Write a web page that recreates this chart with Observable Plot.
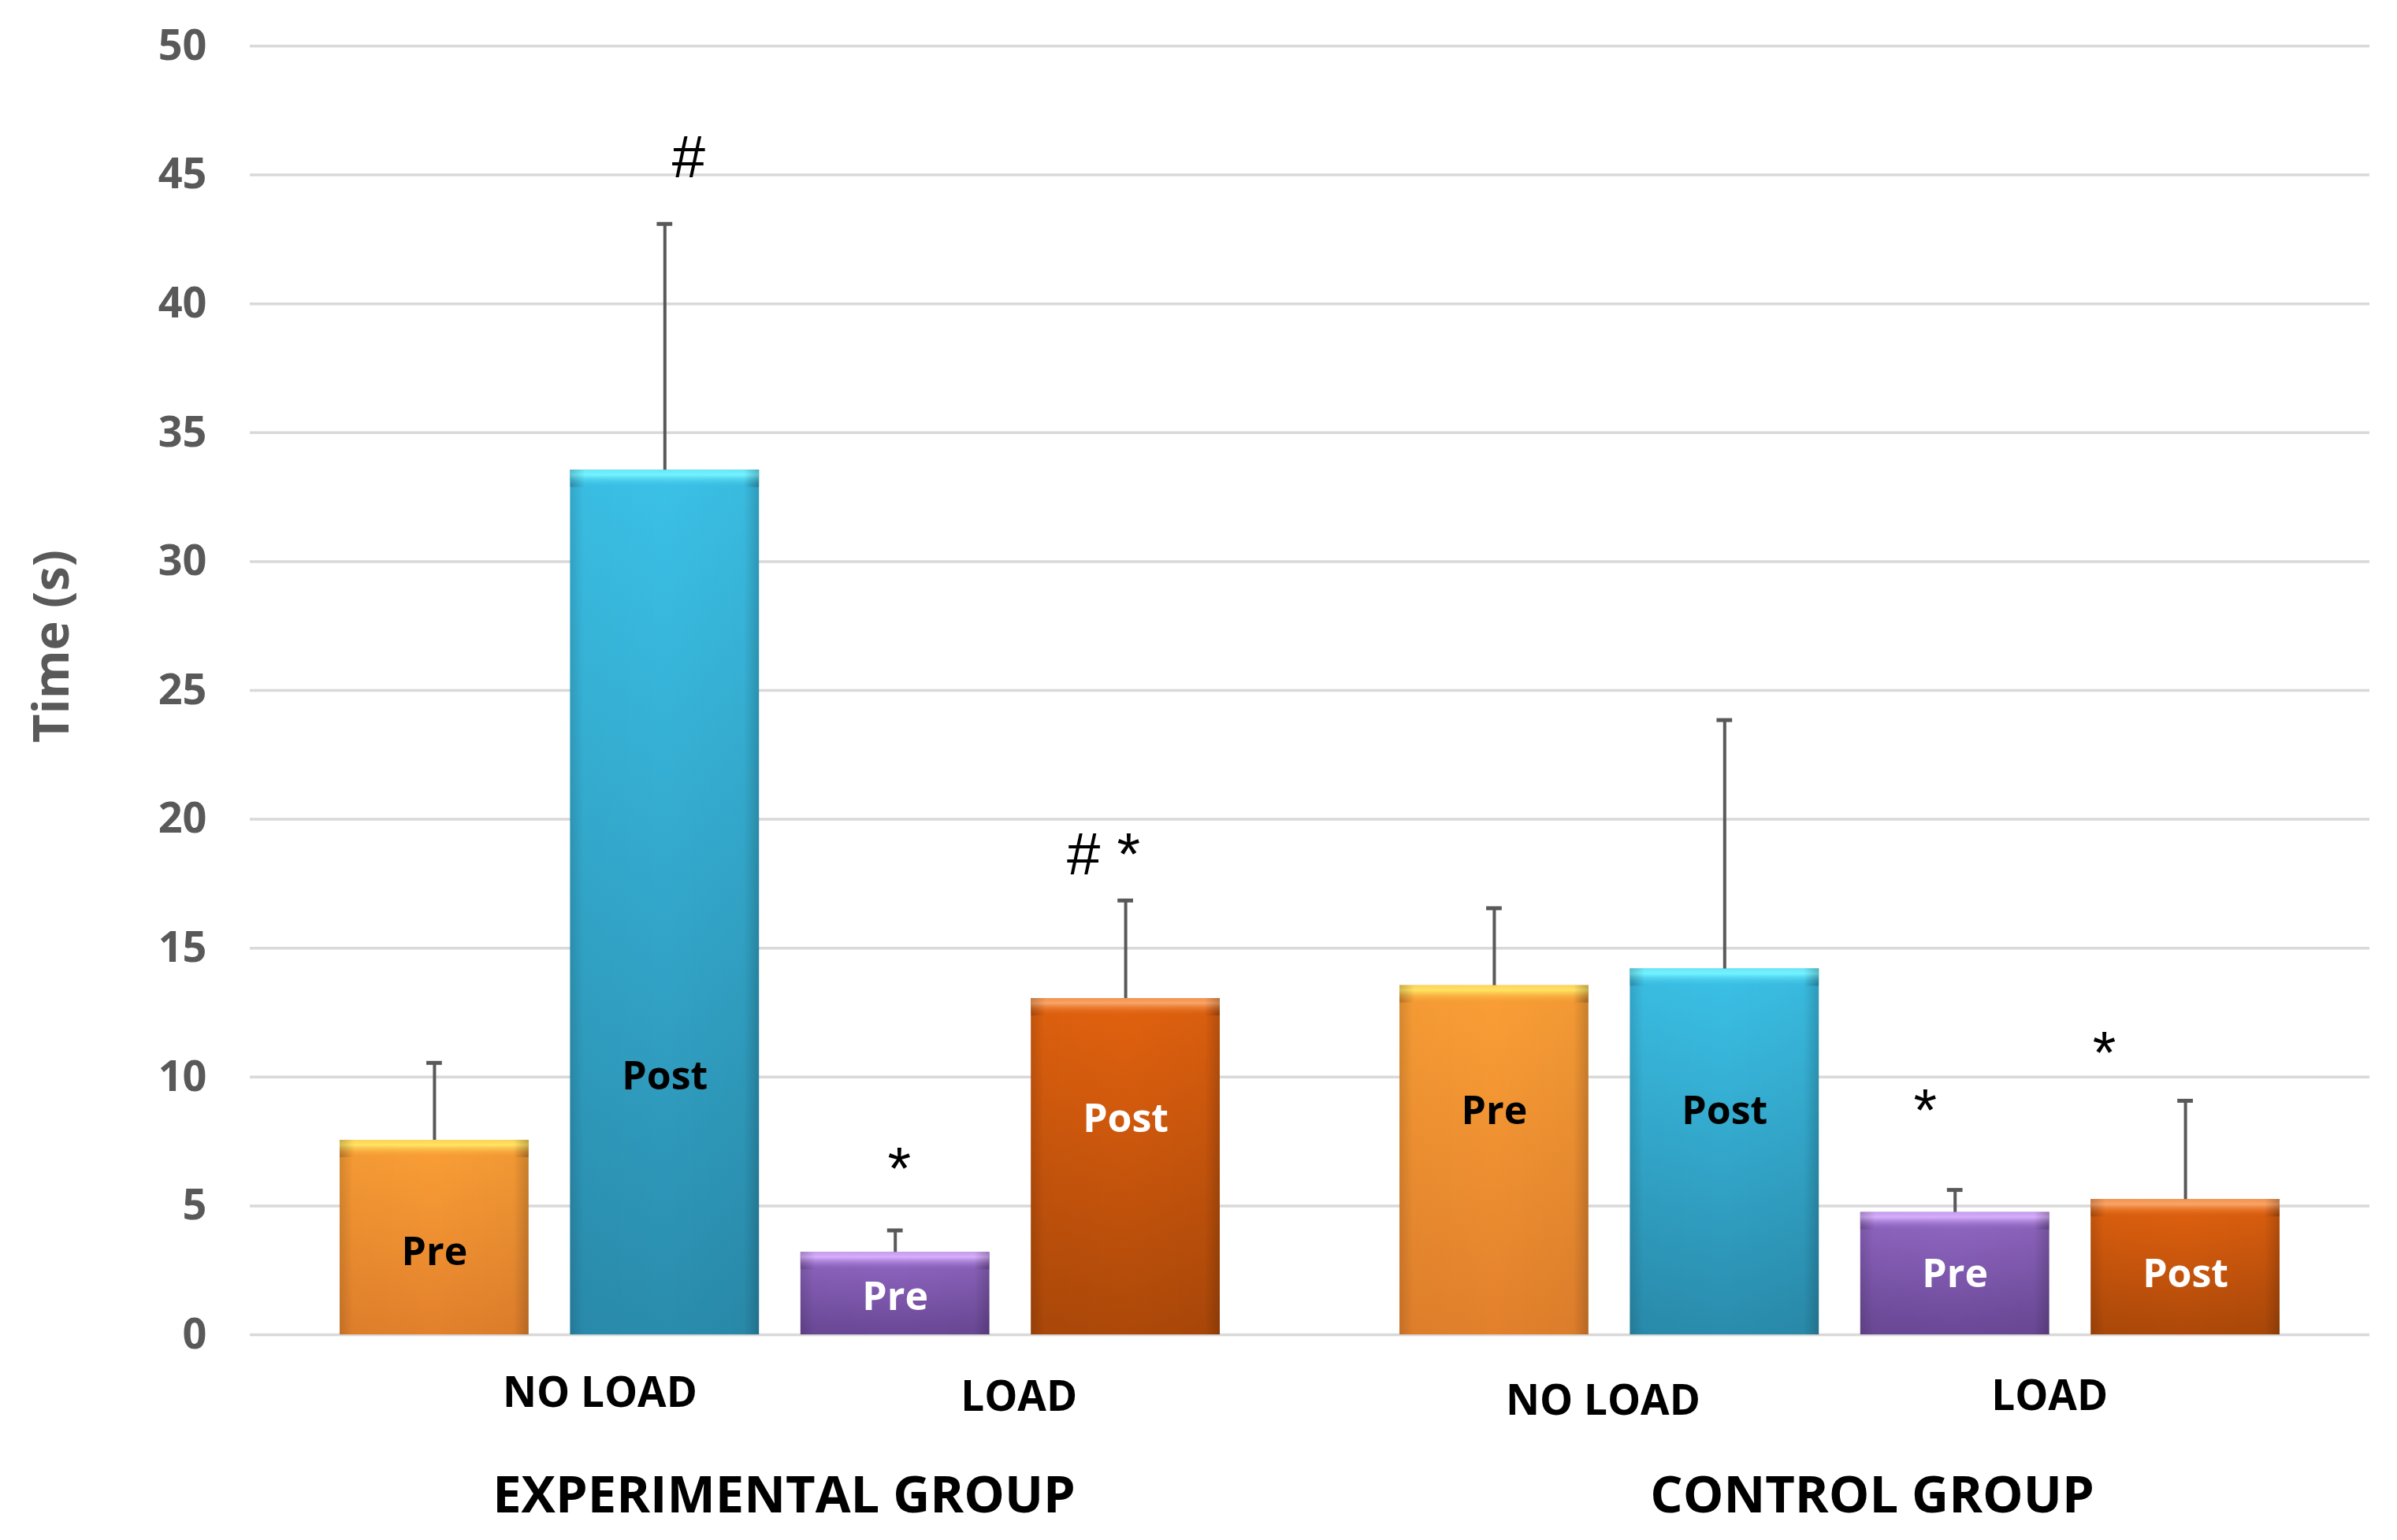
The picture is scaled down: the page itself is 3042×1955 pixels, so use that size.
<!DOCTYPE html>
<html><head><meta charset="utf-8">
<script src="https://cdn.jsdelivr.net/npm/d3@7"></script>
<script src="https://cdn.jsdelivr.net/npm/@observablehq/plot@0.6"></script>
<style>html,body{margin:0;padding:0;background:#fff;}</style>
</head><body><div id="chart"></div>
<script>
// ---------- data ----------
const groups = ["EXPERIMENTAL GROUP", "CONTROL GROUP"];
const conditions = ["NO LOAD Pre", "NO LOAD Post", "LOAD Pre", "LOAD Post"];
const phaseLabels = ["Pre", "Post", "Pre", "Post"];
const loadLabels = ["NO LOAD", "LOAD"];
const expMean = [7.55, 33.55, 3.2, 13.05];
const expSD = [3.0, 9.55, 0.85, 3.8];
const ctrlMean = [13.55, 14.2, 4.75, 5.25];
const ctrlSD = [3.0, 9.65, 0.87, 3.83];
const expSig = ["", "#", "*", "# *"];
const ctrlSig = ["", "", "*", "*"];
const expSigY = [null, 45.66, 6.4, 18.6];
const ctrlSigY = [null, null, 8.67, 10.9];
const expLabelY = [3.2, 10.0, 1.45, 8.35];
const ctrlLabelY = [8.65, 8.65, 2.35, 2.35];
const yTicks = [0, 5, 10, 15, 20, 25, 30, 35, 40, 45, 50];
const yTitle = "Time (s)";

// ---------- table ----------
const means = [expMean, ctrlMean], sds = [expSD, ctrlSD], sigs = [expSig, ctrlSig],
      sigYs = [expSigY, ctrlSigY], labYs = [expLabelY, ctrlLabelY];
const rows = [];
groups.forEach((g, gi) => conditions.forEach((c, ci) => rows.push({
  group: g, cond: c, ci, gi, mean: means[gi][ci], sd: sds[gi][ci],
  phase: phaseLabels[ci], sig: sigs[gi][ci], sigY: sigYs[gi][ci], labelY: labYs[gi][ci]
})));
const loadRows = [];
groups.forEach((g, gi) => loadLabels.forEach((t, li) => loadRows.push({group: g, cond: conditions[li * 2], text: t, gi, li})));

// ---------- styles ----------
const gradStops = [
  {top: "#FA9F36", bottom: "#E2802C", hl: "#FFE463"},
  {top: "#3BC1E7", bottom: "#2A8CAD", hl: "#74F3FF"},
  {top: "#9268C4", bottom: "#6A4896", hl: "#D6AEFC"},
  {top: "#E2620F", bottom: "#AC4809", hl: "#F9A466"}
];
const textColors = ["#000", "#000", "#fff", "#fff"];
const loadDx = [[64, 11], [-8, -26]];
const loadDy = [[75, 80], [85, 79]];
const groupDx = [5, 41];
const sigDx = [[0, 30, 5, -28], [0, 0, -38, -103]];
const FONT = "'Open Sans', sans-serif";

const marks = [
  Plot.ruleY(yTicks, {y: d => d, stroke: "#d9d9d9", strokeWidth: 3.5}),
  Plot.barY(rows, {fx: "group", x: "cond", y: "mean", fill: d => `url(#fill${d.ci})`}),
  Plot.barY(rows, {fx: "group", x: "cond", y: "mean", fill: () => "url(#shade)"}),
  Plot.barY(rows, {fx: "group", x: "cond", y1: "mean", y2: "mean", insetBottom: -22, fill: d => `url(#hl${d.ci})`}),
  Plot.barY(rows, {fx: "group", x: "cond", y1: "mean", y2: "mean", insetBottom: -22, fill: () => "url(#bevel)"}),
  Plot.ruleX(rows, {fx: "group", x: "cond", y1: "mean", y2: d => d.mean + d.sd, stroke: "#595959", strokeWidth: 4}),
  Plot.tickY(rows, {fx: "group", x: "cond", y: d => d.mean + d.sd, stroke: "#595959", strokeWidth: 5, insetLeft: 110, insetRight: 110}),
  Plot.text(rows, {fx: "group", x: "cond", y: "labelY", text: "phase", fill: d => textColors[d.ci],
    fontSize: 50, fontWeight: "bold", fontFamily: FONT}),
  Plot.axisY({ticks: yTicks, tickSize: 0, tickPadding: 55, fontSize: 54, fontWeight: "bold",
    fontFamily: FONT, color: "#595959", label: null, tickFormat: d => String(d)}),
  Plot.text([{group: groups[0]}], {fx: "group", frameAnchor: "left", textAnchor: "middle", lineAnchor: "middle",
    text: () => yTitle, rotate: -90, dx: -251, dy: -56, fontSize: 63, fontWeight: "bold", fill: "#595959", fontFamily: FONT})
];
rows.filter(d => d.sig).forEach(d => marks.push(
  Plot.text([d], {fx: "group", x: "cond", y: "sigY", text: "sig", dx: sigDx[d.gi][d.ci],
    fontSize: 76, fill: () => "#000", fontFamily: "'Liberation Sans', Arial, sans-serif"})));
loadRows.forEach(d => marks.push(
  Plot.text([d], {fx: "group", x: "cond", text: "text", frameAnchor: "bottom", lineAnchor: "middle",
    dx: 146 + loadDx[d.gi][d.li], dy: loadDy[d.gi][d.li], fontSize: 53, fontWeight: "bold",
    fill: () => "#000", fontFamily: FONT})));
groups.forEach((g, gi) => marks.push(
  Plot.text([{group: g}], {fx: "group", text: "group", frameAnchor: "bottom", lineAnchor: "middle",
    dx: groupDx[gi], dy: 205, fontSize: 65, fontWeight: "bold", fill: () => "#000", fontFamily: FONT})));

const chart = Plot.plot({
  width: 3042, height: 1955,
  marginLeft: 316, marginRight: 35, marginTop: 58, marginBottom: 261,
  style: {background: "#fff", fontFamily: FONT},
  fx: {domain: groups, padding: 0, axis: null},
  x: {domain: conditions, paddingInner: 0.18, paddingOuter: 0.39, axis: null, round: false},
  y: {domain: [0, 50], axis: null},
  color: {type: "identity"},
  marks
});

// gradient defs for the bevelled bar look
const svg = d3.select(chart.tagName.toLowerCase() === "svg" ? chart : chart.querySelector("svg"));
const defs = svg.insert("defs", ":first-child");
gradStops.forEach((s, i) => {
  const f = defs.append("linearGradient").attr("id", `fill${i}`).attr("x1", 0).attr("y1", 0).attr("x2", 0).attr("y2", 1);
  f.append("stop").attr("offset", 0).attr("stop-color", s.top);
  f.append("stop").attr("offset", 1).attr("stop-color", s.bottom);
  const h = defs.append("linearGradient").attr("id", `hl${i}`).attr("x1", 0).attr("y1", 0).attr("x2", 0).attr("y2", 1);
  h.append("stop").attr("offset", 0).attr("stop-color", s.hl).attr("stop-opacity", 0.75);
  h.append("stop").attr("offset", 0.3).attr("stop-color", s.hl);
  h.append("stop").attr("offset", 1).attr("stop-color", s.top).attr("stop-opacity", 0);
});
// darker corners of the top bevel
const bv = defs.append("linearGradient").attr("id", "bevel").attr("x1", 0).attr("y1", 0).attr("x2", 1).attr("y2", 0);
[[0, 0.18], [0.08, 0], [0.92, 0], [1, 0.22]].forEach(([o, a]) =>
  bv.append("stop").attr("offset", o).attr("stop-color", "#000").attr("stop-opacity", a));
const sh = defs.append("linearGradient").attr("id", "shade").attr("x1", 0).attr("y1", 0).attr("x2", 1).attr("y2", 0);
[[0, 0.14], [0.07, 0.02], [0.5, 0], [0.92, 0.03], [1, 0.2]].forEach(([o, a]) =>
  sh.append("stop").attr("offset", o).attr("stop-color", "#000").attr("stop-opacity", a));

document.getElementById("chart").appendChild(chart);
</script>
</body></html>
